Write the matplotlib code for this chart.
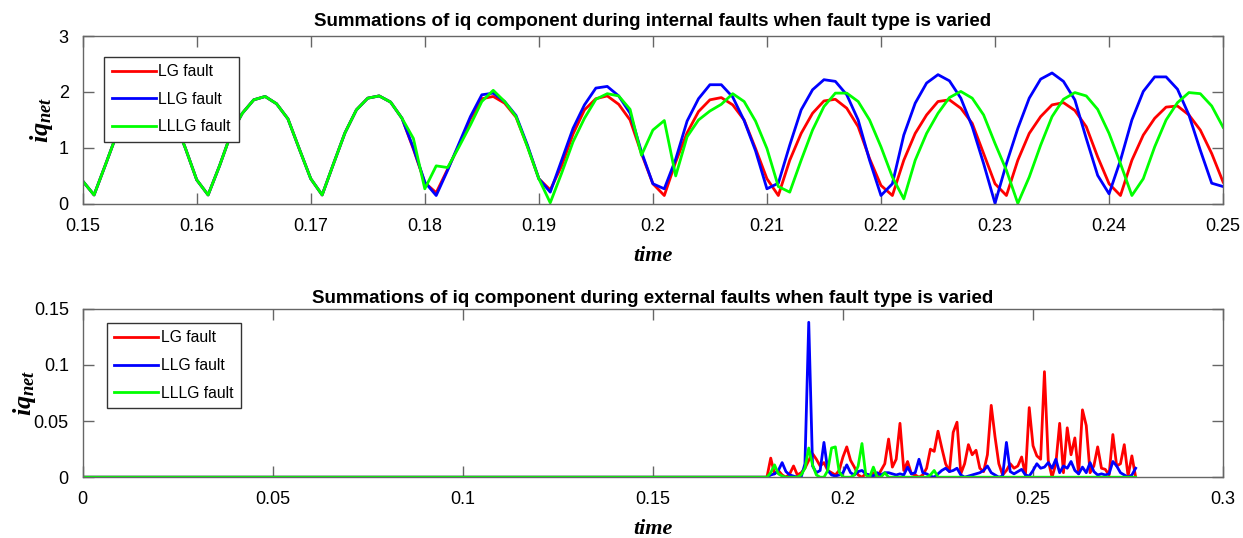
import numpy as np
import matplotlib
matplotlib.use("Agg")
import matplotlib.pyplot as plt
from matplotlib.ticker import FuncFormatter

plt.rcParams["font.family"] = ["Liberation Sans", "DejaVu Sans"]
plt.rcParams["mathtext.fontset"] = "custom"
plt.rcParams["mathtext.it"] = "Liberation Serif:italic:bold"
plt.rcParams["mathtext.rm"] = "Liberation Serif:bold"

DT = 0.001

# internal faults: iq summation sampled every 1 ms from 0.150 s
INT_START = 0.150
int_prefault = [
    0.41, 0.16, 0.70, 1.25, 1.62, 1.86, 1.92, 1.80, 1.52, 1.00,
    0.43, 0.16, 0.68, 1.25, 1.62, 1.86, 1.92, 1.79, 1.52, 0.98,
    0.45, 0.16, 0.72, 1.27, 1.68, 1.89, 1.93, 1.82,
]
int_lg = [
    1.53, 0.98, 0.38, 0.20, 0.62, 1.05, 1.52, 1.88, 1.92, 1.80,
    1.55, 1.03, 0.45, 0.25, 0.68, 1.25, 1.68, 1.88, 1.93, 1.78,
    1.50, 0.90, 0.36, 0.15, 0.75, 1.27, 1.65, 1.86, 1.90, 1.77,
    1.50, 0.99, 0.45, 0.15, 0.78, 1.26, 1.62, 1.84, 1.87, 1.71,
    1.38, 0.81, 0.33, 0.15, 0.78, 1.26, 1.59, 1.83, 1.86, 1.71,
    1.44, 0.90, 0.36, 0.15, 0.78, 1.26, 1.56, 1.77, 1.81, 1.67,
    1.38, 0.84, 0.36, 0.15, 0.78, 1.23, 1.53, 1.73, 1.75, 1.59,
    1.32, 0.90, 0.39,
]
int_llg = [
    1.53, 1.00, 0.39, 0.15, 0.60, 1.08, 1.56, 1.95, 1.98, 1.83,
    1.58, 1.05, 0.45, 0.21, 0.78, 1.35, 1.77, 2.07, 2.10, 1.93,
    1.62, 0.93, 0.36, 0.27, 0.80, 1.48, 1.88, 2.13, 2.13, 1.91,
    1.49, 0.95, 0.27, 0.37, 1.05, 1.68, 2.04, 2.22, 2.19, 1.95,
    1.50, 0.78, 0.15, 0.36, 1.23, 1.80, 2.16, 2.31, 2.20, 1.89,
    1.38, 0.72, 0.01, 0.72, 1.35, 1.89, 2.23, 2.34, 2.19, 1.86,
    1.17, 0.51, 0.18, 0.78, 1.50, 2.01, 2.27, 2.27, 2.05, 1.59,
    0.96, 0.37, 0.31,
]
int_lllg = [
    1.53, 1.17, 0.27, 0.68, 0.65, 1.02, 1.41, 1.83, 2.03, 1.83,
    1.56, 1.02, 0.45, 0.02, 0.55, 1.11, 1.53, 1.87, 1.97, 1.93,
    1.69, 0.87, 1.32, 1.49, 0.50, 1.20, 1.50, 1.66, 1.78, 1.97,
    1.83, 1.48, 0.99, 0.31, 0.21, 0.78, 1.32, 1.74, 1.98, 1.98,
    1.83, 1.50, 1.02, 0.48, 0.09, 0.78, 1.26, 1.62, 1.90, 2.01,
    1.89, 1.59, 1.08, 0.60, 0.01, 0.48, 1.05, 1.56, 1.87, 1.99,
    1.93, 1.69, 1.26, 0.72, 0.15, 0.45, 1.02, 1.50, 1.81, 1.99,
    1.97, 1.75, 1.37,
]

# external faults: zero until the disturbance, then 1 ms samples from 0.180 s
EXT_START = 0.180
ext_lg = [
    0.000, 0.017, 0.003, 0.006, 0.002, 0.000, 0.003, 0.010, 0.002, 0.004,
    0.008, 0.015, 0.021, 0.016, 0.010, 0.013, 0.006, 0.004, 0.002, 0.006,
    0.018, 0.027, 0.015, 0.009, 0.002, 0.000, 0.003, 0.001, 0.004, 0.000,
    0.006, 0.012, 0.034, 0.009, 0.016, 0.048, 0.006, 0.014, 0.003, 0.002,
    0.000, 0.002, 0.008, 0.025, 0.023, 0.041, 0.026, 0.012, 0.005, 0.040,
    0.049, 0.003, 0.012, 0.029, 0.020, 0.024, 0.008, 0.005, 0.020, 0.064,
    0.036, 0.012, 0.002, 0.006, 0.012, 0.008, 0.010, 0.018, 0.002, 0.062,
    0.028, 0.019, 0.016, 0.094, 0.015, 0.000, 0.012, 0.048, 0.004, 0.044,
    0.020, 0.035, 0.003, 0.060, 0.046, 0.004, 0.010, 0.027, 0.008, 0.007,
    0.002, 0.038, 0.010, 0.012, 0.029, 0.001, 0.019, 0.000,
]
ext_llg = [
    0.000, 0.002, 0.003, 0.006, 0.013, 0.005, 0.002, 0.001, 0.000, 0.000,
    0.012, 0.138, 0.010, 0.004, 0.006, 0.031, 0.006, 0.002, 0.001, 0.002,
    0.004, 0.011, 0.004, 0.002, 0.005, 0.006, 0.003, 0.002, 0.001, 0.004,
    0.002, 0.004, 0.004, 0.003, 0.002, 0.003, 0.002, 0.009, 0.003, 0.004,
    0.016, 0.004, 0.003, 0.001, 0.000, 0.003, 0.006, 0.008, 0.005, 0.006,
    0.008, 0.002, 0.000, 0.001, 0.002, 0.003, 0.004, 0.006, 0.010, 0.004,
    0.002, 0.000, 0.001, 0.031, 0.005, 0.003, 0.005, 0.007, 0.002, 0.001,
    0.006, 0.012, 0.008, 0.009, 0.013, 0.008, 0.016, 0.004, 0.010, 0.008,
    0.014, 0.006, 0.003, 0.009, 0.004, 0.013, 0.005, 0.002, 0.003, 0.002,
    0.003, 0.014, 0.010, 0.004, 0.002, 0.000, 0.002, 0.008,
]
ext_lllg = [
    0.000, 0.004, 0.011, 0.003, 0.001, 0.000, 0.000, 0.000, 0.000, 0.002,
    0.008, 0.026, 0.011, 0.002, 0.000, 0.000, 0.006, 0.026, 0.027, 0.005,
    0.000, 0.000, 0.000, 0.002, 0.010, 0.030, 0.002, 0.000, 0.009, 0.000,
    0.000, 0.004, 0.000, 0.000, 0.000, 0.000, 0.000, 0.000, 0.000, 0.000,
    0.000, 0.000, 0.000, 0.002, 0.006, 0.000, 0.000, 0.000, 0.000, 0.000,
    0.000, 0.000, 0.000, 0.000, 0.000, 0.000, 0.000, 0.000, 0.000, 0.000,
    0.000, 0.000, 0.000, 0.000, 0.000, 0.000, 0.000, 0.000, 0.000, 0.000,
    0.000, 0.000, 0.000, 0.000, 0.000, 0.000, 0.000, 0.000, 0.000, 0.000,
    0.000, 0.000, 0.000, 0.000, 0.000, 0.000, 0.000, 0.000, 0.000, 0.000,
    0.000, 0.000, 0.000, 0.000, 0.000, 0.000, 0.000, 0.000,
]

labels = ["LG fault", "LLG fault", "LLLG fault"]
colors = ["#ff0000", "#0000ff", "#00ff00"]


def internal_series(post):
    vals = np.array(int_prefault + post)
    t = INT_START + DT * np.arange(len(vals))
    return t, vals


def external_series(post):
    vals = np.concatenate([[0.0], post])
    t = np.concatenate([[0.0], EXT_START + DT * np.arange(len(post))])
    return t, vals


def style_axes(ax, title, title_pad, ylabel_x):
    ax.set_title(title, fontsize=13.5, fontweight="bold", pad=title_pad)
    ax.tick_params(direction="in", top=True, right=True, length=8,
                   width=1.0, color="#666666", labelsize=13, pad=10)
    for sp in ax.spines.values():
        sp.set_color("#666666")
        sp.set_linewidth(1.0)
    ax.xaxis.set_major_formatter(FuncFormatter(lambda v, _: f"{v:g}"))
    ax.yaxis.set_major_formatter(FuncFormatter(lambda v, _: f"{v:g}"))
    ax.set_xlabel("time", fontsize=16, fontfamily="Liberation Serif",
                  fontstyle="italic", fontweight="bold", labelpad=8)
    ax.set_ylabel(r"$iq_{net}$", fontsize=19)
    ax.yaxis.set_label_coords(ylabel_x, 0.5)


def add_legend(ax, anchor):
    ax.legend(loc="upper left", bbox_to_anchor=anchor, fontsize=11.3,
              frameon=True, fancybox=False, edgecolor="#333333", framealpha=1,
              handlelength=2.8, handletextpad=0.15, labelspacing=0.8,
              borderpad=0.5, borderaxespad=0)


fig = plt.figure(figsize=(12.43, 5.38), dpi=100)
ax1 = fig.add_axes([0.0665, 0.621, 0.9175, 0.312])
ax2 = fig.add_axes([0.0665, 0.113, 0.9175, 0.313])

for post, lab, col in zip([int_lg, int_llg, int_lllg], labels, colors):
    t, v = internal_series(post)
    ax1.plot(t, v, color=col, lw=2.0, label=lab)
ax1.set_xlim(0.15, 0.25)
ax1.set_ylim(0, 3)
ax1.set_xticks(np.arange(0.15, 0.2501, 0.01))
ax1.set_yticks([0, 1, 2, 3])
style_axes(ax1, "Summations of iq component during internal faults when fault type is varied", 7, -0.024)
add_legend(ax1, (0.019, 0.878))

for post, lab, col in zip([ext_lg, ext_llg, ext_lllg], labels, colors):
    t, v = external_series(post)
    ax2.plot(t, v, color=col, lw=2.0, label=lab)
ax2.set_xlim(0, 0.3)
ax2.set_ylim(0, 0.15)
ax2.set_xticks(np.arange(0, 0.3001, 0.05))
ax2.set_yticks([0, 0.05, 0.1, 0.15])
style_axes(ax2, "Summations of iq component during external faults when fault type is varied", 4, -0.039)
add_legend(ax2, (0.021, 0.918))

fig.savefig("out.png", dpi=100)
